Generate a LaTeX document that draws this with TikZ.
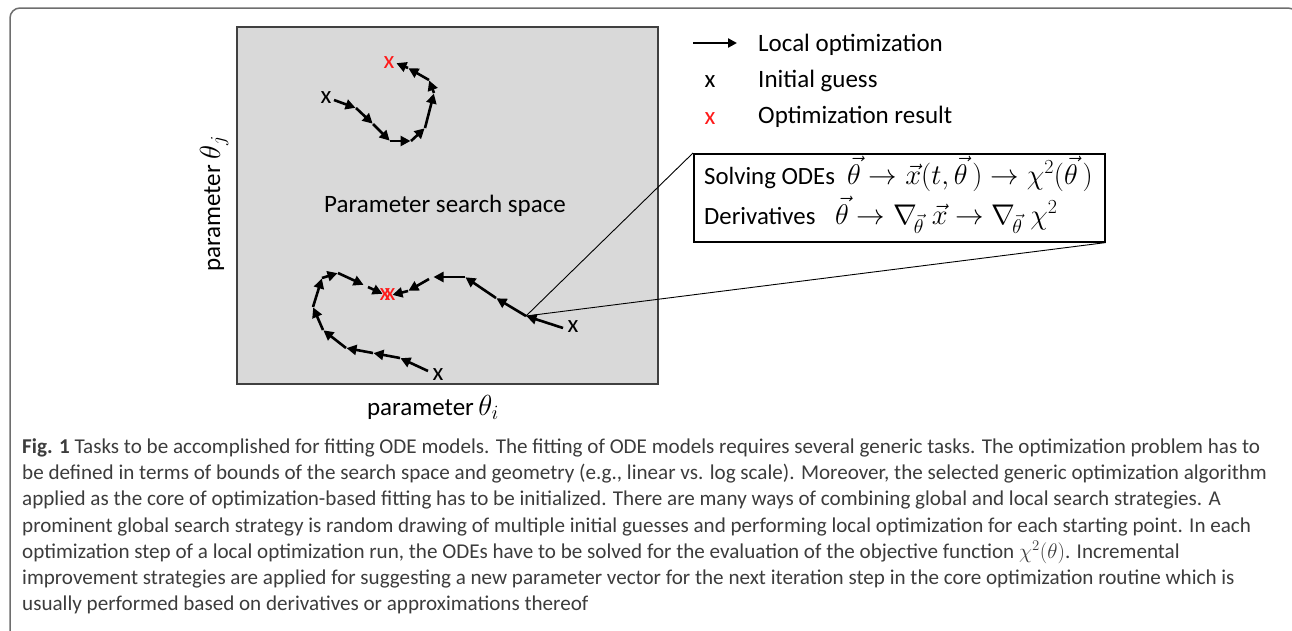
\RequirePackage{fix-cm}
\documentclass[tikz,border=0pt]{standalone}
\usepackage[no-math]{fontspec}
\usepackage{amsmath}
\setmainfont{Carlito}
\usetikzlibrary{arrows.meta}

\definecolor{spacegray}{HTML}{D9D9D9}
\definecolor{boxedge}{HTML}{404040}
\definecolor{framegray}{HTML}{6E6E6E}
\definecolor{capgray}{HTML}{3C3C3C}
\definecolor{resultred}{HTML}{FF1A1A}

\begin{document}
\begin{tikzpicture}[x=1pt,y=-1pt,
  traj/.style={line width=2.6pt,-{Triangle[length=10pt,width=10pt]},shorten >=0.5pt},
  guess/.style={font=\fontsize{25}{30}\selectfont, inner sep=0pt},
  result/.style={guess,text=resultred},
  lbl/.style={font=\fontsize{25}{30}\selectfont, inner sep=0pt, anchor=base west},
  boxtxt/.style={font=\fontsize{24.8}{30}\selectfont, inner sep=0pt, anchor=base west},
  boxmath/.style={font=\fontsize{28.5}{34}\selectfont, inner sep=0pt, anchor=base west},
  capline/.style={font=\fontsize{21.1}{25}\selectfont, text=capgray, inner sep=0pt, anchor=base west},
  zoomline/.style={line width=0.9pt, black},
]
\clip (0,0) rectangle (1292,630);

% outer panel frame
\draw[framegray, line width=1.5pt, rounded corners=10pt] (10,8) rectangle (1298,700);

% parameter search space
\node[draw=boxedge, fill=spacegray, line width=1.5pt, minimum width=421pt,
      minimum height=357pt, inner sep=0pt, anchor=north west] (space) at (236,26) {};
\node[font=\fontsize{25}{30}\selectfont, inner sep=0pt] (spacelbl) at (445,206) {Parameter search space};

% axis labels
\node[inner sep=0pt, anchor=base] (xlab) at (433,415)
  {{\fontsize{25}{30}\selectfont parameter}\hspace{0.45em}{\fontsize{29}{34}\selectfont$\theta_i$}};
\node[inner sep=0pt, anchor=base, rotate=90] (ylab) at (220,204)
  {{\fontsize{25}{30}\selectfont parameter}\hspace{0.6em}{\fontsize{29}{34}\selectfont$\theta_j$}};

% upper optimization run
\coordinate (t0) at (334,100);
\coordinate (t1) at (356,108);
\coordinate (t2) at (373,124);
\coordinate (t3) at (390,141);
\coordinate (t4) at (411,141);
\coordinate (t5) at (425,128);
\coordinate (t6) at (434,93);
\coordinate (t7) at (429,80);
\coordinate (t8) at (408,68);
\coordinate (t9) at (396,63);
\foreach \a/\b in {t0/t1,t1/t2,t2/t3,t3/t4,t4/t5,t5/t6,t6/t7,t7/t8,t8/t9}
  \draw[traj] (\a) -- (\b);
\node[guess] (g1) at (326,98) {x};
\node[result] (m1) at (389,63) {x};

% lower left optimization run
\coordinate (b0) at (428,371);
\coordinate (b1) at (400,358);
\coordinate (b2) at (373,353);
\coordinate (b3) at (346,348);
\coordinate (b4) at (323,330);
\coordinate (b5) at (313,307);
\coordinate (b6) at (322,278);
\coordinate (b7) at (338,273);
\coordinate (b8) at (364,285);
\coordinate (b9) at (368,287);
\coordinate (b10) at (383,294);
\foreach \a/\b in {b0/b1,b1/b2,b2/b3,b3/b4,b4/b5,b5/b6,b6/b7,b7/b8,b9/b10}
  \draw[traj] (\a) -- (\b);
\node[guess] (g2) at (438,375) {x};

% lower right optimization run
\coordinate (r0) at (563,328);
\coordinate (r1) at (526,316);
\coordinate (r2) at (496,298);
\coordinate (r3) at (465,277);
\coordinate (r4) at (433,277);
\coordinate (r5) at (429,279);
\coordinate (r6) at (408,291);
\coordinate (r7) at (392,295);
\foreach \a/\b in {r0/r1,r1/r2,r2/r3,r3/r4,r5/r6,r6/r7}
  \draw[traj] (\a) -- (\b);
\node[guess] (g3) at (573,327) {x};
\node[result] (m2) at (385,295) {x};
\node[result] (m3) at (390,295) {x};

% legend
\coordinate (la) at (693,43);
\coordinate (lb) at (737,43);
\draw[line width=2.4pt,-{Triangle[length=9pt,width=9pt]}] (la) -- (lb);
\node[lbl] (l1) at (758,51) {Local optimization};
\node[guess] (lx1) at (710,82) {x};
\node[lbl] (l2) at (758,87) {Initial guess};
\node[result] (lx2) at (710,119) {x};
\node[lbl] (l3) at (758,123) {Optimization result};

% single step details
\node[draw, line width=1.6pt, fill=white, minimum width=411pt, minimum height=88pt,
      inner sep=0pt, anchor=north west] (ode) at (693,153) {};
\node[boxtxt] (s1) at (704,184) {Solving ODEs};
\node[boxmath] (s1m) at (847,184) {$\vec\theta\to\vec x(t,\vec\theta\,)\to\chi^2(\vec\theta\,)$};
\node[boxtxt] (s2) at (704,224) {Derivatives};
\node[boxmath] (s2m) at (835,224) {$\vec\theta\to\nabla_{\!\vec\theta}\;\vec x\to\nabla_{\!\vec\theta}\;\chi^2$};
\draw[zoomline] (r1) -- (ode.north west);
\draw[zoomline] (r1) -- (ode.south east);

% caption
\node[capline] (c1) at (22,453) {\textbf{Fig. 1} Tasks to be accomplished for fitting ODE models. The fitting of ODE models requires several generic tasks. The optimization problem has to};
\node[capline] (c2) at (22,479) {be defined in terms of bounds of the search space and geometry (e.g., linear vs. log scale). Moreover, the selected generic optimization algorithm};
\node[capline] (c3) at (22,505) {applied as the core of optimization-based fitting has to be initialized. There are many ways of combining global and local search strategies. A};
\node[capline] (c4) at (22,532) {prominent global search strategy is random drawing of multiple initial guesses and performing local optimization for each starting point. In each};
\node[capline] (c5) at (22,558) {optimization step of a local optimization run, the ODEs have to be solved for the evaluation of the objective function $\chi^2(\theta)$. Incremental};
\node[capline] (c6) at (22,584) {improvement strategies are applied for suggesting a new parameter vector for the next iteration step in the core optimization routine which is};
\node[capline] (c7) at (22,610) {usually performed based on derivatives or approximations thereof};
\end{tikzpicture}
\end{document}
